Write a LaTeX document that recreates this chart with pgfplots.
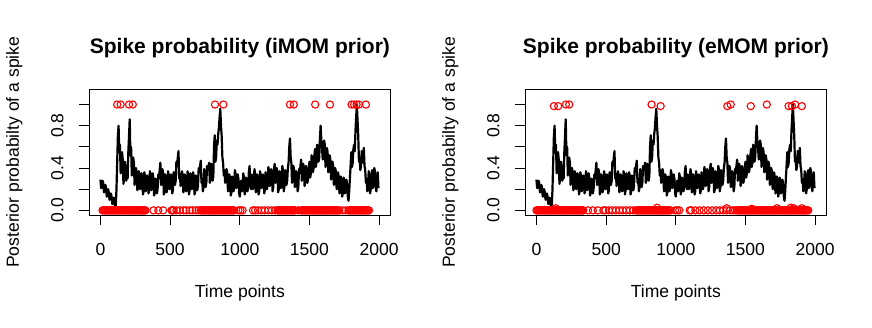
\documentclass[border=0pt]{standalone}
\usepackage{pgfplots}
\pgfplotsset{compat=1.18}
\usepackage{pgfplotstable}
\usepackage{fontspec}
\setmainfont{Liberation Sans}

\pgfplotstableread{
x y
0 0.29
5 0.21
10 0.22
15 0.28
20 0.26
25 0.17
30 0.18
35 0.24
40 0.22
45 0.13
50 0.14
55 0.20
60 0.17
65 0.10
70 0.11
75 0.16
80 0.13
85 0.06
90 0.07
95 0.12
100 0.08
105 0.03
110 0.04
115 0.20
120 0.45
125 0.70
130 0.80
135 0.55
140 0.62
145 0.35
150 0.40
155 0.55
160 0.48
165 0.25
170 0.30
175 0.46
180 0.42
185 0.28
190 0.35
195 0.30
200 0.55
205 0.70
210 0.86
215 0.52
220 0.60
225 0.33
230 0.38
235 0.50
240 0.45
245 0.24
250 0.28
255 0.40
260 0.36
265 0.19
270 0.22
275 0.37
280 0.33
285 0.20
290 0.25
295 0.35
300 0.30
305 0.15
310 0.18
315 0.36
320 0.32
325 0.18
330 0.22
335 0.33
340 0.28
345 0.16
350 0.20
355 0.37
360 0.34
365 0.19
370 0.24
375 0.35
380 0.30
385 0.14
390 0.17
395 0.30
400 0.26
405 0.16
410 0.20
415 0.34
420 0.30
425 0.38
430 0.45
435 0.24
440 0.28
445 0.39
450 0.35
455 0.15
460 0.18
465 0.34
470 0.30
475 0.17
480 0.21
485 0.37
490 0.33
495 0.20
500 0.24
505 0.34
510 0.30
515 0.16
520 0.19
525 0.36
530 0.32
535 0.24
540 0.28
545 0.46
550 0.42
555 0.50
560 0.56
565 0.30
570 0.35
575 0.23
580 0.27
585 0.37
590 0.33
595 0.17
600 0.20
605 0.34
610 0.30
615 0.18
620 0.22
625 0.37
630 0.33
635 0.15
640 0.19
645 0.35
650 0.31
655 0.20
660 0.24
665 0.36
670 0.32
675 0.15
680 0.18
685 0.33
690 0.29
695 0.19
700 0.23
705 0.40
710 0.36
715 0.42
720 0.47
725 0.26
730 0.30
735 0.18
740 0.22
745 0.39
750 0.35
755 0.22
760 0.26
765 0.42
770 0.38
775 0.40
780 0.45
785 0.26
790 0.30
795 0.44
800 0.40
805 0.28
810 0.32
815 0.60
820 0.71
825 0.46
830 0.50
835 0.66
840 0.62
845 0.72
850 0.78
855 0.88
860 0.96
865 0.80
870 0.70
875 0.50
880 0.45
885 0.33
890 0.38
895 0.26
900 0.30
905 0.39
910 0.35
915 0.18
920 0.21
925 0.34
930 0.30
935 0.14
940 0.17
945 0.32
950 0.28
955 0.18
960 0.22
965 0.38
970 0.34
975 0.21
980 0.25
985 0.34
990 0.30
995 0.16
1000 0.13
1005 0.24
1010 0.28
1015 0.18
1020 0.22
1025 0.35
1030 0.31
1035 0.15
1040 0.18
1045 0.31
1050 0.27
1055 0.18
1060 0.22
1065 0.36
1070 0.42
1075 0.25
1080 0.20
1085 0.34
1090 0.30
1095 0.20
1100 0.24
1105 0.39
1110 0.35
1115 0.17
1120 0.21
1125 0.34
1130 0.30
1135 0.15
1140 0.18
1145 0.37
1150 0.33
1155 0.21
1160 0.25
1165 0.34
1170 0.30
1175 0.16
1180 0.19
1185 0.36
1190 0.32
1195 0.20
1200 0.24
1205 0.41
1210 0.37
1215 0.23
1220 0.27
1225 0.39
1230 0.35
1235 0.18
1240 0.22
1245 0.38
1250 0.44
1255 0.26
1260 0.30
1265 0.40
1270 0.36
1275 0.17
1280 0.20
1285 0.37
1290 0.33
1295 0.21
1300 0.25
1305 0.42
1310 0.38
1315 0.18
1320 0.22
1325 0.38
1330 0.34
1335 0.24
1340 0.28
1345 0.40
1350 0.45
1355 0.60
1360 0.68
1365 0.50
1370 0.45
1375 0.26
1380 0.30
1385 0.42
1390 0.38
1395 0.22
1400 0.26
1405 0.37
1410 0.33
1415 0.18
1420 0.22
1425 0.39
1430 0.35
1435 0.42
1440 0.48
1445 0.28
1450 0.32
1455 0.44
1460 0.40
1465 0.23
1470 0.27
1475 0.42
1480 0.38
1485 0.26
1490 0.30
1495 0.40
1500 0.46
1505 0.31
1510 0.35
1515 0.52
1520 0.48
1525 0.36
1530 0.40
1535 0.52
1540 0.58
1545 0.41
1550 0.45
1555 0.62
1560 0.58
1565 0.46
1570 0.50
1575 0.68
1580 0.80
1585 0.66
1590 0.60
1595 0.48
1600 0.52
1605 0.66
1610 0.62
1615 0.41
1620 0.45
1625 0.59
1630 0.55
1635 0.36
1640 0.40
1645 0.52
1650 0.48
1655 0.29
1660 0.33
1665 0.46
1670 0.42
1675 0.24
1680 0.28
1685 0.40
1690 0.36
1695 0.20
1700 0.24
1705 0.36
1710 0.32
1715 0.16
1720 0.20
1725 0.32
1730 0.28
1735 0.13
1740 0.17
1745 0.31
1750 0.27
1755 0.16
1760 0.20
1765 0.29
1770 0.25
1775 0.13
1780 0.09
1785 0.18
1790 0.30
1795 0.42
1800 0.55
1805 0.41
1810 0.45
1815 0.58
1820 0.62
1825 0.56
1830 0.75
1835 0.88
1840 1.00
1845 0.85
1850 0.70
1855 0.46
1860 0.50
1865 0.38
1870 0.42
1875 0.56
1880 0.52
1885 0.45
1890 0.59
1895 0.42
1900 0.38
1905 0.26
1910 0.30
1915 0.18
1920 0.22
1925 0.37
1930 0.33
1935 0.16
1940 0.20
1945 0.34
1950 0.38
1955 0.21
1960 0.25
1965 0.40
1970 0.37
1975 0.22
1980 0.18
1985 0.30
1990 0.36
1995 0.21
}\probtab

\pgfplotsset{
  rpanel/.style={
    scale only axis, width=301bp, height=125.7bp,
    xmin=-80, xmax=2080, ymin=-0.044, ymax=1.144,
    axis line style={line width=1bp},
    every tick/.style={line width=1bp, black},
    tick align=outside, major tick length=10bp,
    xtick pos=left, ytick pos=left,
    xtick={0,500,1000,1500,2000}, xticklabels={0,500,1000,1500,2000},
    ytick={0,0.2,0.4,0.6,0.8,1}, yticklabels={0.0,,0.4,,0.8,},
    tick label style={font=\fontsize{17.6}{20}\selectfont},
    yticklabel style={rotate=90, anchor=base, inner sep=0pt},
    xticklabel style={anchor=north, inner sep=0pt},
    yticklabel shift=16bp,
    xticklabel shift=18bp,
  },
  spikeline/.style={black, line width=2.2bp, line join=round},
  rcirc/.style={only marks, mark=o, mark size=3.6bp, red, mark options={line width=1.1bp, red}},
}

\begin{document}
\begin{tikzpicture}[x=1bp, y=1bp]
\path[use as bounding box] (0,0) rectangle (872,327);

% ---------------- left panel ----------------
\begin{axis}[rpanel, at={(89.3bp,112bp)}, anchor=south west]
\addplot[spikeline] table[x=x, y=y] {\probtab};
\addplot[rcirc] coordinates {
(15,0)(22,0)(29,0)(36,0)(43,0)(50,0)(57,0)(64,0)(71,0)(78,0)(85,0)(92,0)(99,0)(106,0)(113,0)(120,0)(127,0)(134,0)
(141,0)(148,0)(155,0)(162,0)(169,0)(176,0)(183,0)(190,0)(197,0)(204,0)(211,0)(218,0)(225,0)(232,0)(239,0)(246,0)
(253,0)(260,0)(267,0)(274,0)(281,0)(288,0)(295,0)(302,0)(309,0)(316,0)(323,0)
(380,0)(415,0)(450,0)
(510,0)(517,0)(524,0)(545,0)(570,0)(595,0)(615,0)(640,0)(660,0)(685,0)(705,0)
(720,0)(727,0)(734,0)(741,0)(748,0)(755,0)(762,0)(769,0)(776,0)(783,0)(790,0)(797,0)(804,0)(811,0)(818,0)(825,0)
(832,0)(839,0)(846,0)(853,0)(860,0)(867,0)(874,0)(881,0)(888,0)(895,0)(902,0)(909,0)(916,0)(923,0)(930,0)(937,0)
(944,0)(951,0)(958,0)
(990,0)(1005,0)(1020,0)
(1095,0)(1110,0)(1130,0)(1155,0)(1180,0)(1205,0)(1230,0)(1255,0)
(1270,0)(1277,0)(1284,0)(1291,0)(1298,0)(1305,0)(1312,0)(1319,0)(1326,0)(1333,0)(1340,0)(1347,0)(1354,0)(1361,0)
(1368,0)(1375,0)(1382,0)(1389,0)(1396,0)
(1420,0)
(1440,0)(1447,0)(1454,0)(1461,0)(1468,0)(1475,0)(1482,0)(1489,0)(1496,0)(1503,0)(1510,0)(1517,0)(1524,0)(1531,0)
(1538,0)(1545,0)(1552,0)(1559,0)(1566,0)(1573,0)(1580,0)(1587,0)(1594,0)(1601,0)(1608,0)(1615,0)(1622,0)(1629,0)
(1636,0)(1643,0)(1650,0)(1657,0)(1664,0)(1671,0)(1678,0)(1685,0)(1692,0)(1699,0)(1706,0)(1713,0)
(1735,0)(1760,0)
(1780,0)(1787,0)(1794,0)(1801,0)(1808,0)(1815,0)(1822,0)(1829,0)(1836,0)(1843,0)(1850,0)(1857,0)(1864,0)(1871,0)
(1878,0)(1885,0)(1892,0)(1899,0)(1906,0)(1913,0)(1920,0)(1927,0)
};
\addplot[rcirc] coordinates {
(120,1)(145,1)(205,1)(232,1)(822,1)(882,1)(1360,1)(1387,1)(1541,1)(1647,1)(1802,1)(1820,1)(1838,1)(1855,1)(1905,1)
};
\end{axis}

% ---------------- right panel ----------------
\begin{axis}[rpanel, at={(525.3bp,112bp)}, anchor=south west]
\addplot[spikeline] table[x=x, y=y] {\probtab};
\addplot[rcirc] coordinates {
(0,0)(7,0)(14,0)(21,0)(28,0)(35,0)(42,0)(49,0)(56,0)(63,0)(70,0)(77,0)(84,0)(91,0)(98,0)(105,0)(112,0)(119,0)
(126,0)(133,0)(140,0)(147,0)(154,0)(161,0)(168,0)(175,0)(182,0)(189,0)(196,0)(203,0)(210,0)(217,0)(224,0)(231,0)
(238,0)(245,0)(252,0)(259,0)(266,0)(273,0)(280,0)(287,0)(294,0)(301,0)(308,0)(315,0)(322,0)(329,0)(336,0)
(137,0.02)
(370,0)(405,0)(440,0)
(480,0)(495,0)(520,0)(545,0)(570,0)(595,0)(620,0)(645,0)(670,0)(695,0)
(715,0)(722,0)(729,0)(736,0)(743,0)(750,0)(757,0)(764,0)(771,0)(778,0)(785,0)(792,0)(799,0)(806,0)(813,0)(820,0)
(827,0)(834,0)(841,0)(848,0)(855,0)(862,0)(869,0)(876,0)(883,0)(890,0)(897,0)(904,0)(911,0)(918,0)(925,0)(932,0)
(939,0)(946,0)(953,0)(960,0)
(865,0.025)
(995,0)(1010,0)(1025,0)
(1100,0)(1110,0)(1140,0)(1170,0)(1200,0)(1230,0)(1260,0)(1290,0)(1315,0)(1340,0)(1365,0)(1390,0)(1410,0)(1425,0)
(1440,0)(1447,0)(1454,0)(1461,0)(1468,0)(1475,0)(1482,0)(1489,0)(1496,0)(1503,0)(1510,0)(1517,0)(1524,0)(1531,0)
(1538,0)(1545,0)(1552,0)(1559,0)(1566,0)(1573,0)(1580,0)(1587,0)(1594,0)(1601,0)(1608,0)(1615,0)(1622,0)(1629,0)
(1636,0)(1643,0)(1650,0)(1657,0)(1664,0)(1671,0)(1678,0)(1685,0)(1692,0)(1699,0)(1706,0)(1713,0)(1720,0)(1727,0)
(1734,0)(1741,0)(1748,0)(1755,0)(1762,0)(1769,0)(1776,0)(1783,0)(1790,0)(1797,0)(1804,0)(1811,0)(1818,0)(1825,0)
(1832,0)(1839,0)(1846,0)(1853,0)(1860,0)(1867,0)(1874,0)(1881,0)(1888,0)(1895,0)(1902,0)(1909,0)(1916,0)(1923,0)
(1930,0)(1937,0)(1944,0)(1950,0)
(1365,0.02)(1545,0.015)(1725,0.02)(1825,0.025)(1845,0.02)(1904,0.02)
};
\addplot[rcirc] coordinates {
(125,0.985)(156,0.985)(211,1)(235,1)(826,1)(891,0.985)(1370,0.985)(1394,1)(1538,0.985)(1653,1)(1809,0.985)(1833,0.985)(1856,1)(1904,0.985)
};
\end{axis}

% ---------------- titles and labels ----------------
\node[anchor=base, font=\fontsize{21.1}{24}\selectfont\bfseries] at (239.9,273.5) {Spike probability (iMOM prior)};
\node[anchor=base, font=\fontsize{21.1}{24}\selectfont\bfseries] at (675.9,273.5) {Spike probability (eMOM prior)};
\node[anchor=base, font=\fontsize{17.6}{20}\selectfont] at (239.9,29.3) {Time points};
\node[anchor=base, font=\fontsize{17.6}{20}\selectfont] at (675.9,29.3) {Time points};
\node[anchor=base, rotate=90, font=\fontsize{17.6}{20}\selectfont] at (18.8,174.8) {Posterior probabilty of a spike};
\node[anchor=base, rotate=90, font=\fontsize{17.6}{20}\selectfont] at (454.8,174.8) {Posterior probabilty of a spike};
\end{tikzpicture}
\end{document}
